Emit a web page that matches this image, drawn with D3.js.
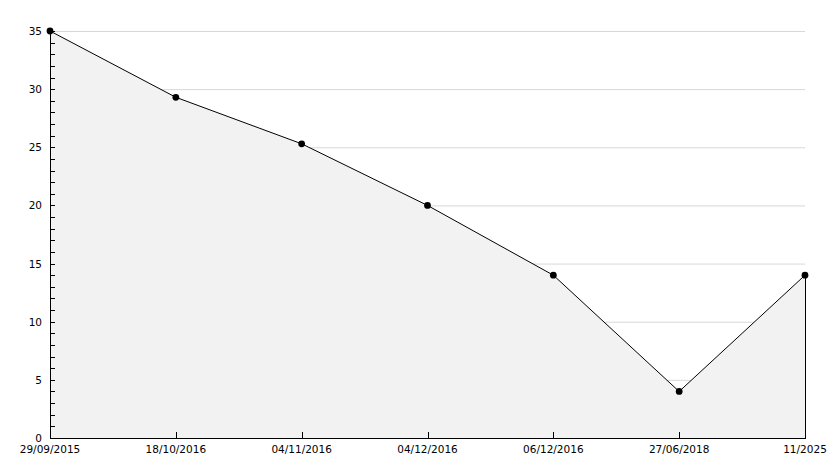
<!DOCTYPE html>
<html><head><meta charset="utf-8">
<script src="https://cdn.jsdelivr.net/npm/d3@7"></script>
<style>body{margin:0;background:#fff}svg{display:block}text{font-family:"DejaVu Sans",Verdana,sans-serif;font-size:10.5px;fill:#000}</style>
</head><body><svg id="c" width="834" height="468"></svg>
<script>
const categories = ["29/09/2015","18/10/2016","04/11/2016","04/12/2016","06/12/2016","27/06/2018","11/2025"];
const values = [35, 29.3, 25.3, 20, 14, 4, 14];
const yTicks = [0,5,10,15,20,25,30,35];

const svg = d3.select("#c");
const L=50, R=805, T=31, B=438;
const x = d3.scalePoint().domain(categories).range([L,R]);
const y = d3.scaleLinear().domain([0,35]).range([B,T]);

// gridlines
svg.append("g").selectAll("line").data(yTicks.filter(d=>d>0)).join("line")
  .attr("x1",L).attr("x2",R).attr("y1",d=>y(d)+0.5).attr("y2",d=>y(d)+0.5)
  .attr("stroke","#d8d8d8").attr("stroke-width",1);

const pts = categories.map((c,i)=>({c,v:values[i]}));
// area
svg.append("path").datum(pts)
  .attr("d", d3.area().x(d=>x(d.c)).y0(B).y1(d=>y(d.v)))
  .attr("fill","#f2f2f2");
// right border
svg.append("line").attr("x1",R+0.5).attr("x2",R+0.5).attr("y1",y(values[values.length-1])).attr("y2",B)
  .attr("stroke","#000");
// line
svg.append("path").datum(pts)
  .attr("d", d3.line().x(d=>x(d.c)).y(d=>y(d.v)))
  .attr("fill","none").attr("stroke","#000").attr("stroke-width",1);

// y axis
const minor = d3.range(0,36,1);
const gy = svg.append("g");
gy.append("line").attr("x1",L+0.5).attr("x2",L+0.5).attr("y1",T).attr("y2",B).attr("stroke","#000");
gy.selectAll(".mt").data(minor).join("line")
  .attr("x1",L).attr("x2",L+5).attr("y1",d=>Math.round(y(d))+0.5).attr("y2",d=>Math.round(y(d))+0.5)
  .attr("stroke","#000");
gy.selectAll("text").data(yTicks).join("text")
  .attr("x",L-8).attr("y",d=>y(d)+4).attr("text-anchor","end").text(d=>d);

// x axis
const gx = svg.append("g");
gx.append("line").attr("x1",L).attr("x2",R+1).attr("y1",B+0.5).attr("y2",B+0.5).attr("stroke","#000");
gx.selectAll(".xt").data(categories).join("line")
  .attr("x1",d=>Math.round(x(d))+0.5).attr("x2",d=>Math.round(x(d))+0.5).attr("y1",B-6).attr("y2",B)
  .attr("stroke","#000");
gx.selectAll("text").data(categories).join("text")
  .attr("x",d=>x(d)).attr("y",B+15).attr("text-anchor","middle").text(d=>d);

// markers
svg.append("g").selectAll("path").data(pts).join("path")
  .attr("transform",d=>`translate(${x(d.c)},${y(d.v)})`)
  .attr("d", d3.symbol().type(d3.symbolCircle).size(36))
  .attr("fill","#000");
</script></body></html>
